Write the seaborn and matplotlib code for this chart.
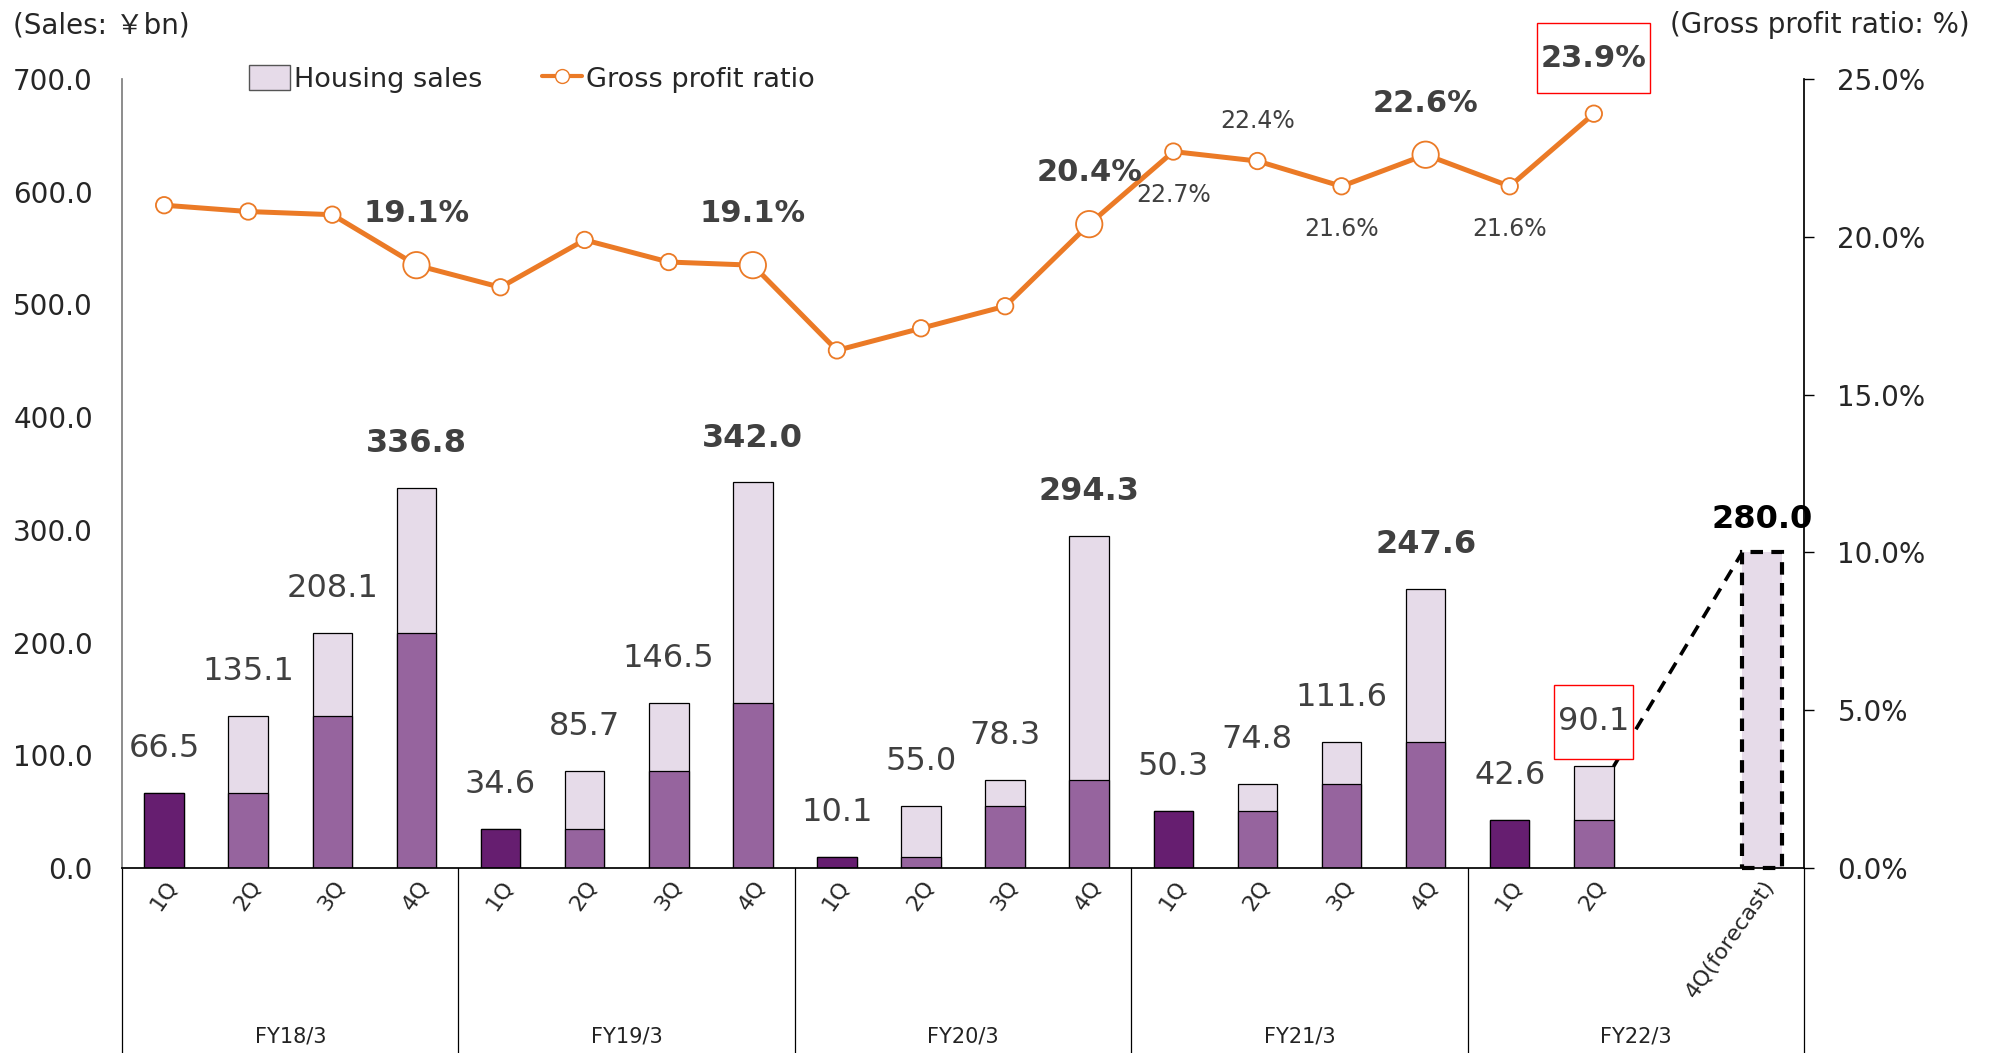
import numpy as np
import pandas as pd
import matplotlib
matplotlib.use("Agg")
import matplotlib.pyplot as plt
import matplotlib.transforms as mtransforms
from matplotlib.patches import Patch
from matplotlib.lines import Line2D
from matplotlib.path import Path
import seaborn as sns

# ---- data ----
fiscal_years = ["FY18/3", "FY19/3", "FY20/3", "FY21/3", "FY22/3"]
quarters = ["1Q", "2Q", "3Q", "4Q"]
# cumulative housing sales (¥bn) per quarter, FY18/3 1Q .. FY22/3 2Q
sales = [66.5, 135.1, 208.1, 336.8,
         34.6, 85.7, 146.5, 342.0,
         10.1, 55.0, 78.3, 294.3,
         50.3, 74.8, 111.6, 247.6,
         42.6, 90.1]
forecast_sales = 280.0
# gross profit ratio (%)
gross_profit_ratio = [21.0, 20.8, 20.7, 19.1,
                      18.4, 19.9, 19.2, 19.1,
                      16.4, 17.1, 17.8, 20.4,
                      22.7, 22.4, 21.6, 22.6,
                      21.6, 23.9]
tick_labels = quarters * 4 + ["1Q", "2Q", "", "4Q(forecast)"]
ratio_labels = {3: "19.1%", 7: "19.1%", 11: "20.4%", 12: "22.7%", 13: "22.4%",
                14: "21.6%", 15: "22.6%", 16: "21.6%", 17: "23.9%"}

# ---- table ----
slots = [f"{fy} {q}" for fy in fiscal_years for q in quarters]
df = pd.DataFrame({"slot": slots[:len(sales)], "sales": sales})
df["fy"] = [s.split()[0] for s in df["slot"]]
df["q"] = [s.split()[1] for s in df["slot"]]
df["prev"] = df.groupby("fy")["sales"].shift(1)
df["ratio"] = gross_profit_ratio
fc_df = pd.DataFrame({"slot": [slots[-1]], "sales": [forecast_sales]})

DARK = "#661E70"
MID = "#96649E"
LIGHT = "#E6DBE9"
ORANGE = "#EB7A26"
GREY = "#404040"
BW = 0.47


def red_box(x0, y0, width, height, mutation_size):
    # rectangle with small side padding and taller top/bottom padding
    px, py = 0.12 * mutation_size, 0.68 * mutation_size
    x0, y0 = x0 - px, y0 - py
    x1, y1 = x0 + width + 2 * px, y0 + height + 2 * py
    return Path([(x0, y0), (x1, y0), (x1, y1), (x0, y1), (x0, y0)], closed=True)


sns.set_theme(style="white")
plt.rcParams["font.family"] = ["DejaVu Sans", "Noto Sans CJK JP"]

fig = plt.figure(figsize=(19.95, 10.53), dpi=100)
ax = fig.add_axes([0.0612, 0.1757, 0.8431, 0.7493])

# light = total, mid = previous cumulative, dark = 1Q
sns.barplot(data=df, x="slot", y="sales", order=slots, color=LIGHT, saturation=1,
            width=BW, edgecolor="black", linewidth=0.9, ax=ax)
sns.barplot(data=df[df["prev"].notna()], x="slot", y="prev", order=slots, color=MID,
            saturation=1, width=BW, edgecolor="black", linewidth=0.9, ax=ax)
sns.barplot(data=df[df["q"] == "1Q"], x="slot", y="sales", order=slots, color=DARK,
            saturation=1, width=BW, edgecolor="black", linewidth=0.9, ax=ax)
n_before = len(ax.patches)
sns.barplot(data=fc_df, x="slot", y="sales", order=slots, color=LIGHT, saturation=1,
            width=BW, edgecolor="black", linewidth=3, ax=ax)
for p in ax.patches[n_before:]:
    p.set_linestyle((0, (3, 2)))
    p.set_clip_on(False)

ax.set_xlim(-0.5, len(slots) - 0.5)
ax.set_ylim(0, 700)
ax.set_yticks(np.arange(0, 701, 100))
ax.set_yticklabels([f"{v:.1f}" for v in np.arange(0, 701, 100)], fontsize=20)
ax.tick_params(axis="y", length=0, pad=21)
ax.set_xlabel("")
ax.set_ylabel("")
ax.set_xticks(range(len(slots)))
ax.set_xticklabels(tick_labels, rotation=55, ha="right", va="top",
                   rotation_mode="anchor", fontsize=16)
ax.tick_params(axis="x", length=0, pad=6)
for s in ["top", "right"]:
    ax.spines[s].set_visible(False)
ax.spines["left"].set_color("#7f7f7f")
ax.spines["bottom"].set_color("black")

# bar labels
pos = {s: i for i, s in enumerate(slots)}
for _, r in df.iterrows():
    x = pos[r["slot"]]
    bold = r["q"] == "4Q"
    kw = dict(ha="center", va="center", fontsize=23,
              color=GREY, fontweight="bold" if bold else "normal")
    if r["slot"] == slots[17]:
        kw["bbox"] = dict(boxstyle=red_box, fc="white", ec="red", lw=1)
    ax.annotate(f"{r['sales']:.1f}", (x, r["sales"]), xytext=(0, 32),
                textcoords="offset points", **kw)
ax.annotate(f"{forecast_sales:.1f}", (len(slots) - 1, forecast_sales), xytext=(0, 24),
            textcoords="offset points", ha="center", va="center", fontsize=23,
            fontweight="bold", color="black", annotation_clip=False)

# dashed connector 2Q -> forecast
x2q = pos[slots[17]]
ax.plot([x2q + BW / 2, len(slots) - 1 - BW / 2], [sales[-1], forecast_sales],
        color="black", lw=2.6, ls=(0, (3.5, 2.5)))

# group separators and labels
trans = mtransforms.blended_transform_factory(ax.transData, ax.transAxes)
for b in np.arange(-0.5, len(slots) + 0.5, 4):
    ax.plot([b, b], [0, -0.235], transform=trans, color="black", lw=0.9, clip_on=False)
for i, fy in enumerate(fiscal_years):
    ax.text(i * 4 + 1.5, -0.214, fy, transform=trans, ha="center", va="center",
            fontsize=15, color="#222222")

# ---- line on secondary axis ----
ax2 = ax.twinx()
xs = np.arange(len(gross_profit_ratio))
sns.lineplot(x=xs, y=df["ratio"].values, color=ORANGE, lw=3.6, ax=ax2, zorder=3)
sizes = np.where(df["q"] == "4Q", 360, 140)
ax2.scatter(xs, df["ratio"], s=sizes, facecolor="white", edgecolor=ORANGE,
            linewidth=1.3, zorder=4)
ax2.set_ylim(0, 25)
ax2.set_yticks(np.arange(0, 26, 5))
ax2.set_yticklabels([f"{v:.1f}%" for v in np.arange(0, 26, 5)], fontsize=20)
ax2.tick_params(axis="y", length=7, width=1, pad=17, color="black", direction="out")
for s in ["top", "left", "bottom"]:
    ax2.spines[s].set_visible(False)
ax2.spines["right"].set_color("black")
ax2.spines["right"].set_bounds(0, 25)

for i, lab in ratio_labels.items():
    v = gross_profit_ratio[i]
    big = df["q"].iloc[i] == "4Q" or i == 17
    below = lab in ("22.7%", "21.6%")
    off = 37 if big else (-31 if below else 29)
    kw = dict(ha="center", va="center", color=GREY,
              fontsize=22 if big else 17, fontweight="bold" if big else "normal")
    if i == 17:
        kw["bbox"] = dict(boxstyle=red_box, fc="white", ec="red", lw=1)
        off = 40
    ax2.annotate(lab, (i, v), xytext=(0, off), textcoords="offset points",
                 annotation_clip=False, **kw)

# legend
handles = [Patch(facecolor=LIGHT, edgecolor="#555555", lw=1),
           Line2D([0], [0], color=ORANGE, lw=3, marker="o", markersize=10,
                  markerfacecolor="white", markeredgecolor=ORANGE)]
ax.legend(handles, ["Housing sales", "Gross profit ratio"], loc="center left",
          bbox_to_anchor=(0.061, 1.0), ncol=2, frameon=False, fontsize=19.5,
          handlelength=1.5, handleheight=1.0, handletextpad=0.15, columnspacing=2.2)

fig.text(0.0065, 0.976, "(Sales: ￥bn)", ha="left", va="center", fontsize=20)
fig.text(0.9875, 0.976, "(Gross profit ratio: %)", ha="right", va="center", fontsize=20)

fig.savefig("out.png", dpi=100)
